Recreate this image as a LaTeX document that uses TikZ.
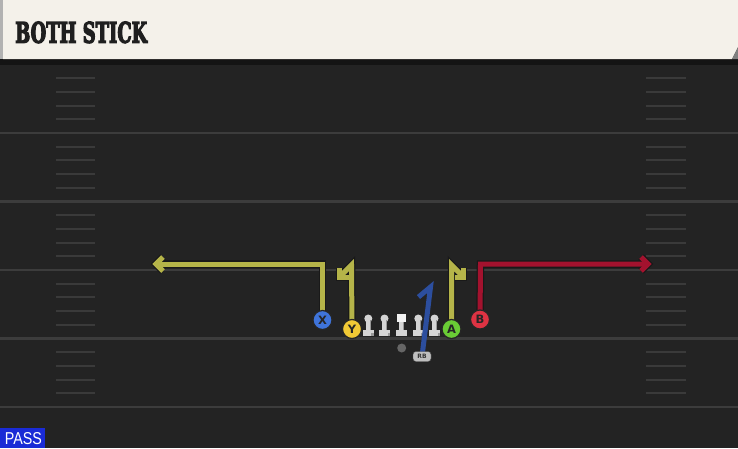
\documentclass[tikz,border=0pt]{standalone}
\usepackage{fontspec}
\setsansfont{DejaVu Sans}
\newfontfamily\titlefont{DejaVu Serif Bold}[FakeBold=5]
\newfontfamily\passfont{Liberation Sans}
\definecolor{bgc}{HTML}{232323}
\definecolor{linec}{HTML}{3C3C3C}
\definecolor{hashc}{HTML}{3A3A3A}
\definecolor{creamc}{HTML}{F4F1EA}
\definecolor{ylwc}{HTML}{B5B449}
\definecolor{redc}{HTML}{A3122E}
\definecolor{bluec}{HTML}{2C4E9E}
\definecolor{xc}{HTML}{3F74DA}
\definecolor{yc}{HTML}{F1C935}
\definecolor{ac}{HTML}{6ACC35}
\definecolor{bc}{HTML}{DE3343}
\definecolor{linemanc}{HTML}{D4D4D4}
\definecolor{passc}{HTML}{1A2BD6}
\tikzset{
  player/.style={circle, draw=black!85, line width=1.2pt, fill=#1, minimum size=19pt, inner sep=0pt,
    font=\sffamily\bfseries\fontsize{11.5}{11.5}\selectfont, text=black!85},
  routeout/.style={draw=black!90, line width=7.5pt, line join=miter},
  routein/.style={draw=#1, line width=5pt, line join=miter},
  routeiny/.style={routein=ylwc},
  routeinr/.style={routein=redc},
  yardline/.style={draw=linec, line width=2.2pt},
  hashmark/.style={draw=hashc, line width=2pt},
}
\begin{document}
\begin{tikzpicture}[x=1pt,y=-1pt]
\useasboundingbox (0,0) rectangle (738,448);
\fill[bgc] (0,0) rectangle (738,448);
% yard lines
\foreach \yy in {133,201.5,270,338.5,407} \draw[yardline] (0,\yy) -- (738,\yy);
% hash marks
\foreach \base/\dir in {133/-1,133/1,201.5/1,270/1,338.5/1} {
  \foreach \k in {1,2,3,4} {
    \draw[hashmark] (56,\base+\dir*13.7*\k) -- (95,\base+\dir*13.7*\k);
    \draw[hashmark] (646,\base+\dir*13.7*\k) -- (686,\base+\dir*13.7*\k);
  }
}
% header
\fill[black!92] (0,58) rectangle (738,64.5);
\fill[creamc] (3,0) -- (738,0) -- (738,47) -- (732,59) -- (3,59) -- cycle;
\fill[black!50] (738,47) -- (738,59) -- (732,59) -- cycle;
\fill[black!30] (0,0) rectangle (3,59);
\node[anchor=base west, inner sep=0pt, text=black!88] (title) at (15,42.7)
  {\resizebox{132pt}{21pt}{\titlefont BOTH STICK}};
% pass label
\fill[passc] (0,428) rectangle (45,448);
\node[anchor=base west, inner sep=0pt, text=white] (pass) at (4.7,444)
  {\resizebox{37pt}{12pt}{\passfont PASS}};
% line
\foreach \lx in {368.3,384.5,418.3,434.5} {
  \fill[linemanc] (\lx-5.5,329.5) rectangle (\lx+5.5,335.5);
  \fill[linemanc] (\lx-2.5,318) rectangle (\lx+2.5,331);
  \fill[linemanc] (\lx,318.5) circle (4);
  \fill[black!40] (\lx+1.3,320) rectangle (\lx+2.5,330);
  \fill[black!40] (\lx+3,333) rectangle (\lx+5.5,335.5);
}
\fill[linemanc] (396.2,329.5) rectangle (407.2,335.5);
\fill[linemanc] (399.2,318) rectangle (404.2,331);
\fill[black!40] (402.9,321) rectangle (404.2,330);
\fill[white!95!black] (397.3,313.5) rectangle (406,321.5);
\node[circle, fill=black!60, minimum size=9pt, inner sep=0pt] (qb) at (401.7,348) {};
% coordinates
\coordinate (xturn) at (322.5,264);
\coordinate (xend) at (156,264);
\coordinate (yturn) at (351.5,265);
\coordinate (yend) at (339.5,277);
\coordinate (aturn) at (451.5,265);
\coordinate (aend) at (463.5,277);
\coordinate (bturn) at (480.5,264);
\coordinate (bend) at (648,264);
\coordinate (rbtop) at (430.5,287);
\coordinate (rbend) at (418.5,297);
% player positions
\coordinate (Xp) at (322.5,320);
\coordinate (Yp) at (352,329);
\coordinate (Ap) at (451.5,329);
\coordinate (Bp) at (480,319.5);
\coordinate (RBp) at (422,356.5);
% routes: outlines then cores
\foreach \st in {routeout, routeiny} {
  \draw[\st] (Xp) -- (xturn) -- (xend);
  \draw[\st] ([shift={(7,-7)}]xend) -- (xend) -- ([shift={(7,7)}]xend);
  \draw[\st] (Yp) -- (yturn) -- (yend);
  \draw[\st] ([shift={(0,-9)}]yend) -- (yend) -- ([shift={(9,0)}]yend);
  \draw[\st] (Ap) -- (aturn) -- (aend);
  \draw[\st] ([shift={(0,-9)}]aend) -- (aend) -- ([shift={(-9,0)}]aend);
}
\foreach \st in {routeout, routeinr} {
  \draw[\st] (Bp) -- (bturn) -- (bend);
  \draw[\st] ([shift={(-7,-7)}]bend) -- (bend) -- ([shift={(-7,7)}]bend);
}
\draw[draw=bluec, line width=5pt, line join=miter] (RBp) -- (rbtop) -- (rbend);
% player nodes
\node[player=xc] (X) at (Xp) {X};
\node[player=yc] (Y) at (Yp) {Y};
\node[player=ac] (A) at (Ap) {A};
\node[player=bc] (B) at (Bp) {B};
\node[draw=black!70, fill=black!25, rounded corners=3pt, minimum width=18pt, minimum height=10pt,
  inner sep=0pt, font=\sffamily\bfseries\fontsize{6}{6}\selectfont, text=black!80] (RB) at (RBp) {RB};
\end{tikzpicture}
\end{document}
